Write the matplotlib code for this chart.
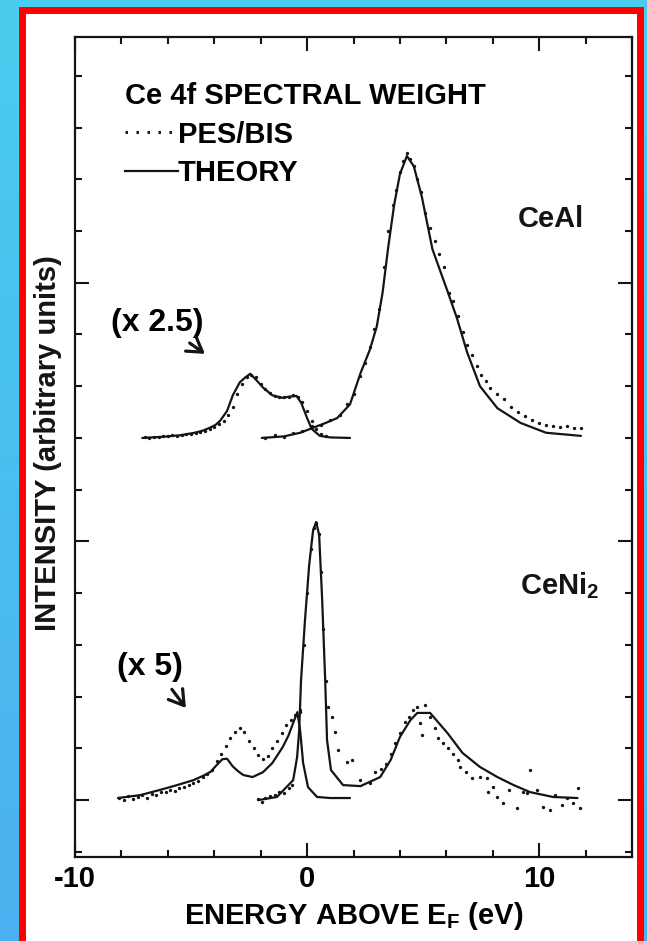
import matplotlib.pyplot as plt
import numpy as np
from matplotlib.patches import Rectangle
from matplotlib.lines import Line2D
from matplotlib.ticker import MultipleLocator
from matplotlib.colors import LinearSegmentedColormap

plt.rcParams['font.family'] = ['Liberation Sans', 'DejaVu Sans']
plt.rcParams['mathtext.fontset'] = 'custom'
plt.rcParams['mathtext.bf'] = 'Liberation Sans:bold'
plt.rcParams['mathtext.rm'] = 'Liberation Sans'
plt.rcParams['axes.unicode_minus'] = False

# ---- CeAl (upper spectrum), intensity relative to its own baseline ----
# occupied side, PES x2.5
ceal_pes_th_e = [-7.1, -6.3, -5.5, -4.9, -4.5, -4.2, -3.95, -3.75, -3.45, -3.2, -2.9, -2.65, -2.45,
                 -2.2, -1.9, -1.5, -1.05, -0.75, -0.45, -0.25, 0.0, 0.2, 0.55, 1.0, 1.85]
ceal_pes_th_i = [0.0, 0.004, 0.01, 0.019, 0.028, 0.039, 0.05, 0.066, 0.104, 0.165, 0.215, 0.235, 0.248,
                 0.225, 0.195, 0.165, 0.155, 0.16, 0.162, 0.135, 0.077, 0.035, 0.008, 0.002, 0.0]
ceal_pes_e = [-7.0, -6.8, -6.6, -6.4, -6.2, -6.0, -5.8, -5.6, -5.4, -5.2, -5.0, -4.8, -4.6, -4.4,
              -4.2, -4.0, -3.8, -3.6, -3.4, -3.2, -3.0, -2.8, -2.6, -2.4, -2.2, -2.0, -1.8, -1.6,
              -1.4, -1.2, -1.0, -0.8, -0.6, -0.4, -0.2, 0.0, 0.2, 0.4, 0.6, 0.8]
ceal_pes_i = [0.003, 0.0, 0.005, 0.004, 0.008, 0.006, 0.01, 0.009, 0.012, 0.014, 0.016, 0.02, 0.024,
              0.028, 0.034, 0.043, 0.052, 0.066, 0.088, 0.12, 0.17, 0.21, 0.235, 0.245, 0.235, 0.21,
              0.19, 0.172, 0.163, 0.158, 0.157, 0.16, 0.165, 0.16, 0.14, 0.105, 0.065, 0.035, 0.015, 0.006]
# unoccupied side, BIS
ceal_bis_th_e = [-1.95, -1.0, -0.3, 0.25, 0.8, 1.3, 1.85, 2.3, 2.7, 3.0, 3.25, 3.5, 3.75, 4.0, 4.3,
                 4.6, 4.95, 5.4, 6.0, 6.45, 6.9, 7.45, 8.2, 9.2, 10.3, 11.8]
ceal_bis_th_i = [0.0, 0.006, 0.02, 0.039, 0.058, 0.077, 0.13, 0.25, 0.34, 0.43, 0.56, 0.74, 0.9, 1.02,
                 1.09, 1.05, 0.93, 0.73, 0.58, 0.465, 0.33, 0.2, 0.115, 0.058, 0.02, 0.008]
ceal_bis_e = [-1.8, -1.4, -1.0, -0.6, -0.2, 0.2, 0.6, 1.0, 1.4, 1.7, 2.0, 2.3, 2.5, 2.7, 2.9, 3.1,
              3.3, 3.5, 3.7, 3.85, 4.0, 4.15, 4.3, 4.45, 4.6, 4.75, 4.9, 5.1, 5.3, 5.5, 5.7, 5.9,
              6.1, 6.3, 6.5, 6.7, 6.9, 7.1, 7.3, 7.5, 7.7, 7.9, 8.2, 8.5, 8.8, 9.1, 9.4, 9.7, 10.0,
              10.3, 10.6, 10.9, 11.2, 11.5, 11.8]
ceal_bis_i = [0.0, 0.01, 0.005, 0.02, 0.025, 0.045, 0.05, 0.07, 0.09, 0.13, 0.17, 0.24, 0.29, 0.35,
              0.42, 0.5, 0.66, 0.8, 0.9, 0.96, 1.03, 1.07, 1.1, 1.08, 1.05, 1.0, 0.95, 0.87, 0.81,
              0.76, 0.71, 0.66, 0.56, 0.53, 0.47, 0.41, 0.36, 0.32, 0.28, 0.245, 0.22, 0.195, 0.17,
              0.15, 0.12, 0.1, 0.085, 0.07, 0.058, 0.05, 0.046, 0.042, 0.045, 0.038, 0.04]

# ---- CeNi2 (lower spectrum) ----
ceni_pes_th_e = [-8.15, -7.2, -6.35, -5.6, -4.9, -4.45, -4.15, -3.9, -3.65, -3.45, -3.2, -2.95, -2.75,
                 -2.35, -1.9, -1.5, -1.05, -0.8, -0.6, -0.42, -0.3, -0.17, 0.04, 0.43, 1.0, 1.85]
ceni_pes_th_i = [0.008, 0.019, 0.039, 0.058, 0.077, 0.095, 0.11, 0.135, 0.158, 0.16, 0.13, 0.11, 0.097,
                 0.089, 0.108, 0.143, 0.205, 0.25, 0.298, 0.34, 0.27, 0.143, 0.05, 0.012, 0.008, 0.008]
ceni_pes_e = [-8.1, -7.9, -7.7, -7.5, -7.3, -7.1, -6.9, -6.7, -6.5, -6.3, -6.1, -5.9, -5.7, -5.5,
              -5.3, -5.1, -4.9, -4.7, -4.5, -4.3, -4.1, -3.9, -3.7, -3.5, -3.3, -3.1, -2.9, -2.7,
              -2.5, -2.3, -2.1, -1.9, -1.7, -1.5, -1.3, -1.1, -0.9, -0.7, -0.5, -0.3]
ceni_pes_i = [0.01, 0.0, 0.015, 0.005, 0.012, 0.02, 0.01, 0.025, 0.02, 0.032, 0.03, 0.04, 0.036, 0.048,
              0.052, 0.06, 0.068, 0.075, 0.088, 0.1, 0.118, 0.15, 0.18, 0.21, 0.24, 0.265, 0.28, 0.265,
              0.23, 0.2, 0.175, 0.16, 0.172, 0.2, 0.23, 0.26, 0.29, 0.31, 0.33, 0.34]
ceni_bis_th_e = [-2.1, -1.3, -0.6, -0.43, -0.34, -0.26, -0.09, 0.09, 0.26, 0.39, 0.52, 0.65, 0.78,
                 0.86, 1.03, 1.55, 2.3, 3.15, 3.6, 4.0, 4.45, 4.75, 5.3, 6.05, 6.7, 7.45, 8.2, 8.9,
                 9.6, 10.6, 11.65]
ceni_bis_th_i = [0.0, 0.012, 0.077, 0.166, 0.27, 0.464, 0.696, 0.909, 1.044, 1.075, 1.025, 0.774, 0.464,
                 0.232, 0.116, 0.058, 0.054, 0.089, 0.155, 0.244, 0.309, 0.337, 0.337, 0.259, 0.182,
                 0.128, 0.089, 0.058, 0.031, 0.012, 0.008]
ceni_bis_e = [-2.1, -1.95, -1.8, -1.6, -1.4, -1.2, -1.0, -0.8, -0.65, -0.3, -0.15, 0.0, 0.15, 0.3,
              0.4, 0.5, 0.6, 0.7, 0.8, 0.9, 1.08, 1.2, 1.34, 1.72, 1.94, 2.28, 2.72, 2.93, 3.2, 3.4,
              3.6, 3.8, 4.0, 4.2, 4.4, 4.57, 4.75, 4.87, 4.96, 5.09, 5.3, 5.5, 5.65, 5.85, 6.08, 6.3,
              6.51, 6.6, 6.85, 7.11, 7.46, 7.76, 7.8, 8.0, 8.19, 8.45, 8.7, 9.05, 9.3, 9.48, 9.61,
              9.91, 10.17, 10.47, 10.7, 10.99, 11.2, 11.47, 11.68, 11.77]
ceni_bis_i = [0.005, -0.008, 0.01, 0.015, 0.02, 0.03, 0.028, 0.045, 0.06, 0.35, 0.6, 0.8, 0.97, 1.05,
              1.07, 1.03, 0.88, 0.66, 0.46, 0.36, 0.32, 0.263, 0.193, 0.147, 0.155, 0.077, 0.066, 0.108,
              0.12, 0.14, 0.18, 0.22, 0.26, 0.3, 0.32, 0.348, 0.36, 0.298, 0.251, 0.367, 0.32, 0.28,
              0.24, 0.22, 0.2, 0.18, 0.155, 0.128, 0.11, 0.085, 0.089, 0.085, 0.031, 0.05, 0.012,
              -0.012, 0.04, -0.031, 0.03, 0.027, 0.116, 0.039, -0.027, -0.039, 0.02, -0.019, 0.01,
              -0.012, 0.046, -0.031]

ceal_offset = 1.4
ink = '#141414'
fs = 21

fig = plt.figure(figsize=(6.47, 9.41), dpi=100)

# blue backdrop and red-framed white sheet
bg = fig.add_axes([0, 0, 1, 1], zorder=-5)
grad = np.linspace(0, 1, 256).reshape(-1, 1)
bg.imshow(grad, extent=[0, 1, 0, 1], aspect='auto',
          cmap=LinearSegmentedColormap.from_list('bg', ['#49CDEE', '#4BB0F0']))
bg.add_patch(Rectangle((21.5 / 647, -0.05), 618 / 647, 1.05 - 10 / 941, transform=bg.transAxes,
                       facecolor='white', edgecolor='#FF0000', lw=5.0))
bg.set_xlim(0, 1)
bg.set_ylim(0, 1)
bg.axis('off')

ax = fig.add_axes([75 / 647, 84 / 941, 557 / 647, 820 / 941])
ax.set_facecolor('none')

dot_kw = dict(ls='none', marker='o', ms=2.4, mew=0, color=ink)
line_kw = dict(lw=1.6, color=ink, solid_capstyle='round')

ax.plot(ceal_pes_th_e, np.array(ceal_pes_th_i) + ceal_offset, **line_kw)
ax.plot(ceal_pes_e, np.array(ceal_pes_i) + ceal_offset, **dot_kw)
ax.plot(ceal_bis_th_e, np.array(ceal_bis_th_i) + ceal_offset, **line_kw)
ax.plot(ceal_bis_e, np.array(ceal_bis_i) + ceal_offset, **dot_kw)
ax.plot(ceni_pes_th_e, ceni_pes_th_i, **line_kw)
ax.plot(ceni_pes_e, ceni_pes_i, **dot_kw)
ax.plot(ceni_bis_th_e, ceni_bis_th_i, **line_kw)
ax.plot(ceni_bis_e, ceni_bis_i, **dot_kw)

ax.set_xlim(-10, 14)
ax.set_ylim(-0.22, 2.95)
ax.xaxis.set_major_locator(MultipleLocator(10))
ax.xaxis.set_minor_locator(MultipleLocator(2))
ax.yaxis.set_major_locator(MultipleLocator(1))
ax.yaxis.set_minor_locator(MultipleLocator(0.2))
ax.set_xticks([-10, 0, 10])
ax.set_xticklabels(['-10', '0', '10'], fontsize=fs, fontweight='bold')
ax.set_yticklabels([])
ax.tick_params(which='both', direction='in', top=True, right=True, color=ink, width=1.5)
ax.tick_params(which='major', length=10, pad=6)
ax.tick_params(which='minor', length=5)
for s in ax.spines.values():
    s.set_linewidth(1.6)
    s.set_color(ink)

ax.set_xlabel(r'ENERGY ABOVE E$_{\mathbf{F}}$ (eV)', fontsize=fs, fontweight='bold', labelpad=5)
fig.text(48 / 647, 1 - 443 / 941, 'INTENSITY (arbitrary units)', rotation=90, ha='center',
         va='center', fontsize=fs, fontweight='bold', color=ink)

handles = [Line2D([], [], ls=(0, (0.8, 2.8)), lw=2.2, color=ink),
           Line2D([], [], ls='-', lw=1.6, color=ink)]
leg = ax.legend(handles, ['PES/BIS', 'THEORY'], title='Ce 4f SPECTRAL WEIGHT', loc='upper left',
                bbox_to_anchor=(0.09, 0.945), frameon=False, handlelength=1.8, handletextpad=0.0,
                borderpad=0, borderaxespad=0, labelspacing=0.36, alignment='left',
                prop={'weight': 'bold', 'size': fs},
                title_fontproperties={'weight': 'bold', 'size': fs})

ax.text(10.5, 2.245, 'CeAl', fontsize=fs, fontweight='bold', ha='center', va='center', color=ink)
ax.text(10.9, 0.83, r'CeNi$_{\mathbf{2}}$', fontsize=fs, fontweight='bold', ha='center',
        va='center', color=ink)

arrow = dict(arrowstyle='->,head_length=0.45,head_width=0.28', lw=2.3, color=ink)
ax.annotate('(x 2.5)', xy=(-4.4, 1.725), xytext=(-6.45, 1.845), fontsize=23, fontweight='bold',
            ha='center', va='center', arrowprops=dict(relpos=(0.77, 0), shrinkA=3, shrinkB=0, **arrow))
ax.annotate('(x 5)', xy=(-5.22, 0.356), xytext=(-6.77, 0.514), fontsize=23, fontweight='bold',
            ha='center', va='center', arrowprops=dict(relpos=(0.75, 0), shrinkA=4, shrinkB=0, **arrow))

fig.savefig('out.png', dpi=100)
